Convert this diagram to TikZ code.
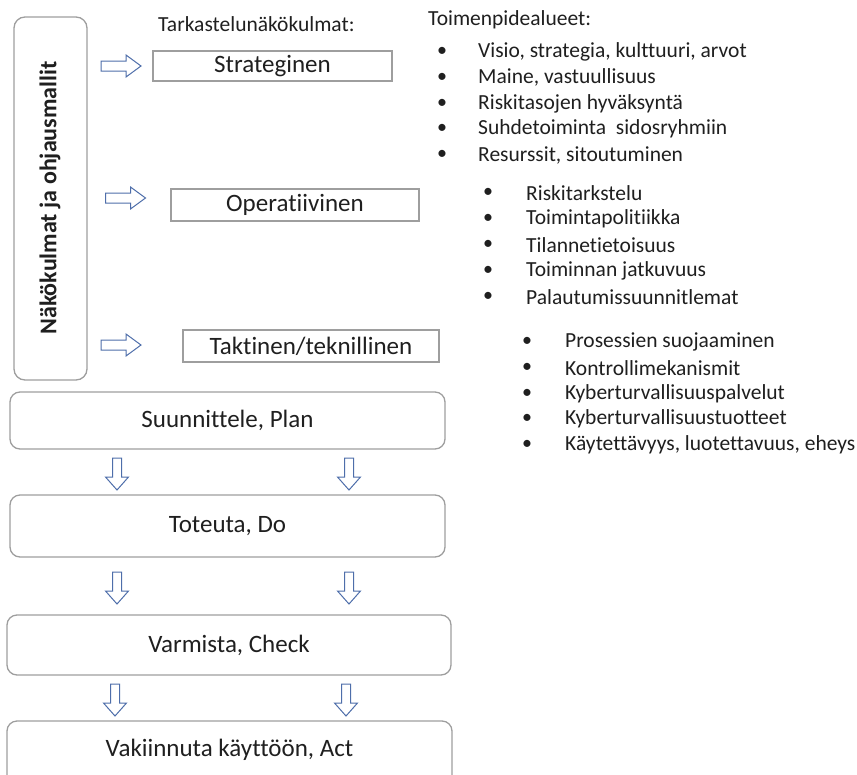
\documentclass[tikz,border=0pt]{standalone}
\usepackage{fontspec}
\setmainfont[Ligatures=NoCommon]{Carlito}
\definecolor{arrowblue}{RGB}{78,110,170}
\begin{document}
\begin{tikzpicture}[x=1pt,y=-1pt,
  txt/.style={text=black!88},
  frame/.style={draw=black!38, line width=1.3pt},
  flatbox/.style={frame, rectangle, txt, inner sep=0pt, font=\fontsize{25}{30}\selectfont},
  phasebox/.style={frame, rounded corners=10pt, rectangle, txt, inner sep=0pt, font=\fontsize{25}{30}\selectfont},
  item/.style={txt, anchor=west, inner sep=0pt, font=\fontsize{21.5}{26}\selectfont},
  dot/.style={txt, inner sep=0pt, font=\fontsize{20}{24}\selectfont},
  arrowline/.style={draw=arrowblue, line width=1pt, fill=white, line join=miter},
  rarrow/.pic={\path[arrowline] (-20,-5)--(5,-5)--(5,-11)--(20,0)--(5,11)--(5,5)--(-20,5)--cycle;},
  darrow/.pic={\path[arrowline] (-4.5,-16)--(4.5,-16)--(4.5,3)--(11.5,3)--(0,16)--(-11.5,3)--(-4.5,3)--cycle;}
]
\useasboundingbox (0,0) rectangle (857,774);

% left pillar
\draw[frame, rounded corners=11pt] (14,17) rectangle (87,380);
\node[txt, rotate=90, font=\fontsize{24}{28}\bfseries] (pillar) at (50,198) {Näkökulmat ja ohjausmallit};

% viewpoint header
\node[txt, anchor=west, inner sep=0pt, font=\fontsize{21.5}{26}\selectfont] (viewhead) at (158,24) {Tarkastelunäkökulmat:};

% viewpoint boxes
\node[flatbox, minimum width=239pt, minimum height=30pt] (strat) at (272.5,66) {Strateginen};
\node[flatbox, minimum width=248pt, minimum height=32pt] (oper) at (295,205) {Operatiivinen};
\node[flatbox, minimum width=256pt, minimum height=32pt] (takt) at (311,346) {Taktinen/teknillinen};

% arrows into viewpoints
\pic (ra1) at (121,66) {rarrow};
\pic (ra2) at (125.5,198) {rarrow};
\pic (ra3) at (121,345) {rarrow};

% action areas
\node[txt, anchor=west, inner sep=0pt, font=\fontsize{21.5}{26}\selectfont] (acthead) at (428,20) {Toimenpidealueet:};

\foreach \t [count=\i] in {{Visio, strategia, kulttuuri, arvot},{Maine, vastuullisuus},{Riskitasojen hyväksyntä},{Suhdetoiminta\ \ sidosryhmiin},{Resurssit, sitoutuminen}}{
  \node[dot] (sb\i) at (442,{52+25.75*(\i-1)}) {•};
  \node[item] (s\i) at (478,{52+25.75*(\i-1)}) {\t};
}
\foreach \t [count=\i] in {Riskitarkstelu,Toimintapolitiikka,Tilannetietoisuus,{Toiminnan jatkuvuus},Palautumissuunnitlemat}{
  \node[dot] (ob\i) at (488,{193+26*(\i-1)}) {•};
  \node[item] (o\i) at (526,{193+26*(\i-1)}) {\t};
}
\foreach \t [count=\i] in {{Prosessien suojaaminen},Kontrollimekanismit,Kyberturvallisuuspalvelut,Kyberturvallisuustuotteet,{Käytettävyys, luotettavuus, eheys}}{
  \node[dot] (tb\i) at (527,{342+25.75*(\i-1)}) {•};
  \node[item] (t\i) at (565,{342+25.75*(\i-1)}) {\t};
}

% PDCA phases
\node[phasebox, minimum width=435pt, minimum height=57pt] (plan) at (227.5,420.5) {Suunnittele, Plan};
\node[phasebox, minimum width=435pt, minimum height=62pt] (do) at (227.5,526) {Toteuta, Do};
\node[phasebox, minimum width=444pt, minimum height=60pt] (check) at (229,645) {Varmista, Check};
\begin{scope}
\clip (0,0) rectangle (857,774);
\draw[frame, rounded corners=10pt] (7,721) rectangle (452,800);
\end{scope}
\node[txt, font=\fontsize{25}{30}\selectfont] (act) at (229.5,750) {Vakiinnuta käyttöön, Act};

% flow between phases
\pic (da1) at (117,474) {darrow};
\pic (da2) at (349,474) {darrow};
\pic (da3) at (117,588) {darrow};
\pic (da4) at (349,588) {darrow};
\pic (da5) at (115,700) {darrow};
\pic (da6) at (346,700) {darrow};
\end{tikzpicture}
\end{document}
